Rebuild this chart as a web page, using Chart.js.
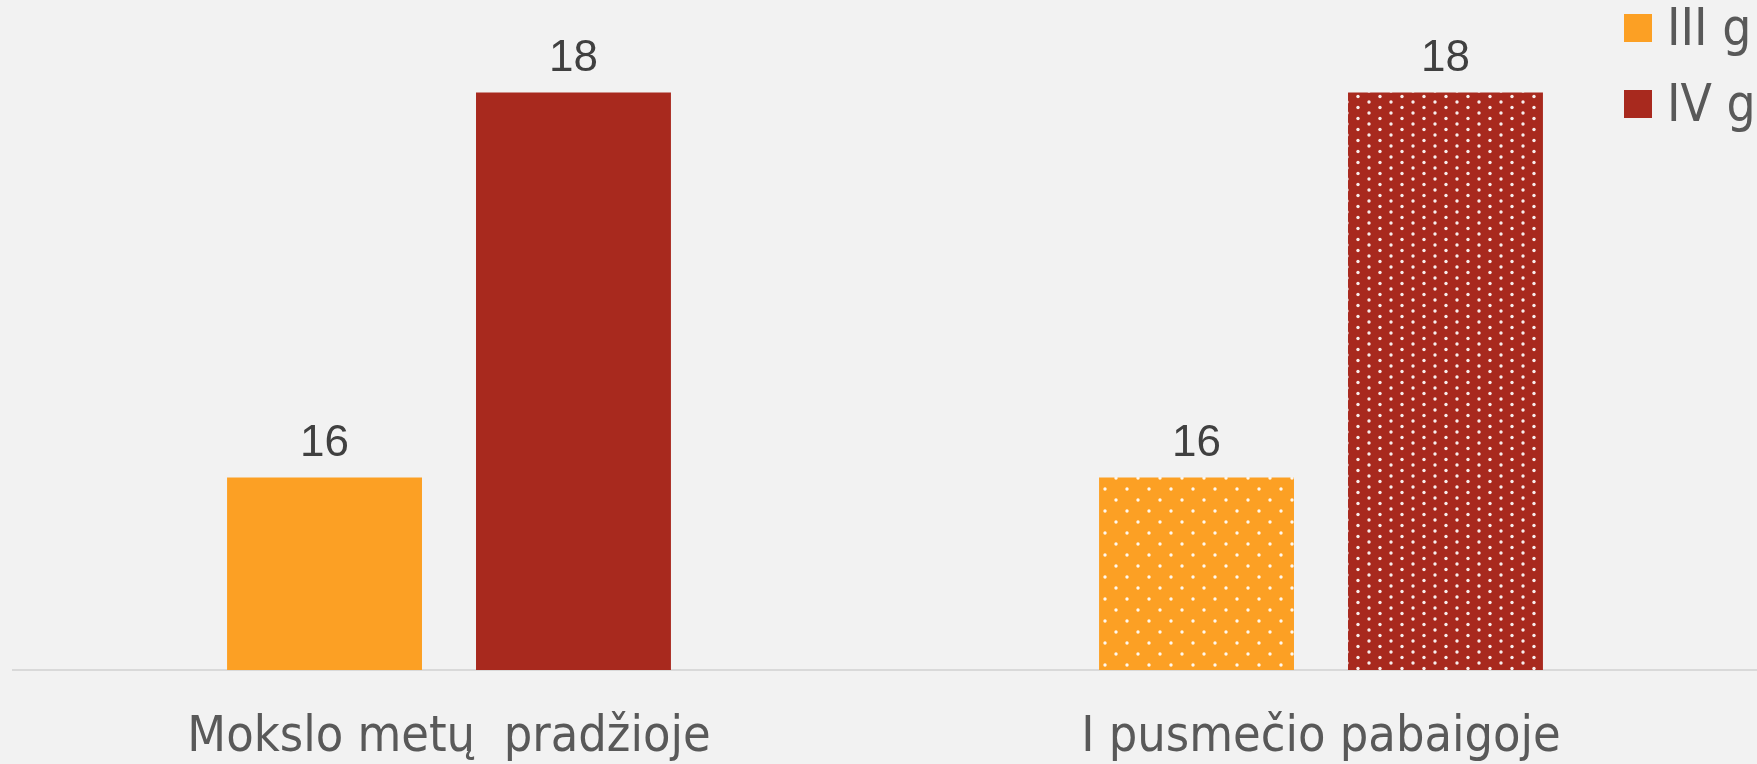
<!DOCTYPE html>
<html>
<head>
<meta charset="utf-8">
<script src="https://cdn.jsdelivr.net/npm/chart.js@4"></script>
<style>
  body { margin: 0; background: #f2f2f2; }
  #wrap { width: 1757px; height: 764px; position: relative; }
</style>
</head>
<body>
<div id="wrap"><canvas id="chart"></canvas></div>
<script>
// values
var categories = ['Mokslo metų  pradžioje', 'I pusmečio pabaigoje'];
var seriesNames = ['III g', 'IV g'];
var thirdGrade = [16, 16];
var fourthGrade = [18, 18];

var orange = '#FCA024';
var red = '#A8291E';
var narrow = '"DejaVu Sans Condensed", "Liberation Sans Narrow", sans-serif';

// dotted fill used for the second group
function dots(color, w, h, pts) {
    var c = document.createElement('canvas');
    c.width = w; c.height = h;
    var g = c.getContext('2d');
    g.fillStyle = color;
    g.fillRect(0, 0, w, h);
    g.fillStyle = 'rgba(255,255,255,0.92)';
    pts.forEach(function (p) {
        g.beginPath();
        g.arc(p[0], p[1], 1.7, 0, Math.PI * 2);
        g.fill();
    });
    return g.createPattern(c, 'repeat');
}
var ctx = document.getElementById('chart').getContext('2d');
var orangeDots = dots(orange, 22, 22, [[5, 5], [16, 16]]);
var redDots = dots(red, 22, 11, [[5, 3], [16, 8.5]]);

var valueLabels = {
    id: 'valueLabels',
    afterDatasetsDraw: function (chart) {
        var c = chart.ctx;
        c.save();
        c.font = '44px "Liberation Sans", Arial, sans-serif';
        c.fillStyle = '#404040';
        c.textAlign = 'center';
        c.textBaseline = 'alphabetic';
        chart.data.datasets.forEach(function (ds, i) {
            chart.getDatasetMeta(i).data.forEach(function (bar, j) {
                c.fillText(ds.data[j], bar.x, bar.y - 21);
            });
        });
        c.restore();
    }
};

var sideLegend = {
    id: 'sideLegend',
    afterDraw: function (chart) {
        var c = chart.ctx;
        c.save();
        c.font = '51px ' + narrow;
        c.textBaseline = 'middle';
        c.textAlign = 'left';
        chart.data.datasets.forEach(function (ds, i) {
            var y = 14 + i * 76;
            c.fillStyle = ds.legendColor;
            c.fillRect(1624, y, 28, 28);
            c.fillStyle = '#595959';
            c.fillText(ds.label, 1667, y + 18);
        });
        c.restore();
    }
};

new Chart(ctx, {
    type: 'bar',
    data: {
        labels: categories,
        datasets: [
            {
                label: seriesNames[0],
                data: thirdGrade,
                backgroundColor: [orange, orangeDots],
                legendColor: orange,
                barPercentage: 0.783,
                categoryPercentage: 0.571
            },
            {
                label: seriesNames[1],
                data: fourthGrade,
                backgroundColor: [red, redDots],
                legendColor: red,
                barPercentage: 0.783,
                categoryPercentage: 0.571
            }
        ]
    },
    options: {
        responsive: true,
        maintainAspectRatio: false,
        animation: false,
        layout: { padding: { left: 13, right: 0, top: 0, bottom: 0 } },
        plugins: {
            legend: { display: false },
            tooltip: { enabled: false }
        },
        scales: {
            x: {
                grid: { display: false },
                border: { display: true, color: '#d9d9d9', width: 2 },
                ticks: {
                    color: '#595959',
                    padding: 30,
                    maxRotation: 0,
                    font: { size: 50, family: narrow }
                },
                afterFit: function (scale) { scale.height = 94; }
            },
            y: {
                display: false,
                min: 15,
                max: 18.48
            }
        }
    },
    plugins: [valueLabels, sideLegend]
});
</script>
</body>
</html>
